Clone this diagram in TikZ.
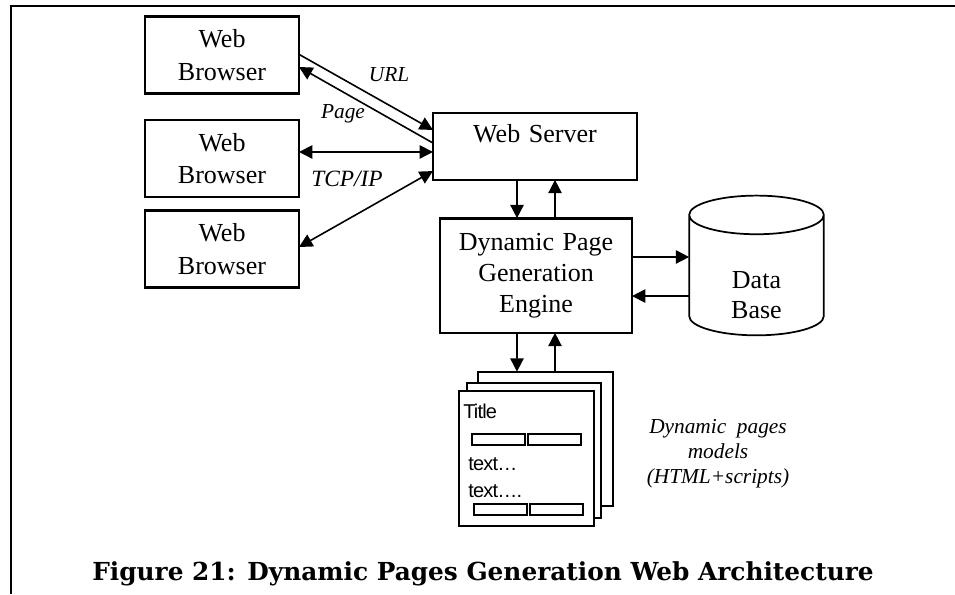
\documentclass[tikz,border=0pt]{standalone}
\usepackage{fontspec}
\setmainfont{Liberation Serif}
\newfontfamily\pagefont[LetterSpace=-4]{Liberation Sans}
\newfontfamily\captionfont{DejaVu Serif}
\usetikzlibrary{shapes, arrows.meta}
\tikzstyle{box}      = [rectangle, draw, text centered, text width=100pt, outer sep=0pt, font=\fontsize{19.5}{24.5}\selectfont]
\tikzstyle{browser}  = [box, line width=1.8pt, minimum width=115.5pt, minimum height=57.5pt]
\tikzstyle{server}   = [box, line width=1.2pt, text width=140pt, minimum width=153pt, minimum height=50pt]
\tikzstyle{engine}   = [box, line width=2pt, text width=130pt, minimum width=144pt, minimum height=86pt, font=\fontsize{19.5}{23.3}\selectfont]
\tikzstyle{store}    = [cylinder, draw, line width=1.3pt, shape border rotate=90, aspect=0.65, align=center, outer sep=0pt, minimum width=101pt, minimum height=97.5pt, font=\fontsize{19.5}{22.5}\selectfont]
\tikzstyle{page}     = [rectangle, draw, line width=1.3pt, fill=white, outer sep=0pt, minimum width=101pt, minimum height=101pt]
\tikzstyle{slot}     = [rectangle, draw, line width=1.3pt, outer sep=0pt, minimum width=40pt, minimum height=8.5pt]
\tikzstyle{note}     = [align=center, font=\fontsize{16}{18.8}\selectfont\itshape]
\tikzstyle{pagetext} = [anchor=west, inner sep=0pt, font=\fontsize{15}{18}\selectfont\pagefont]
\tikzstyle{single}   = [draw, line width=1.2pt, -{Triangle[length=10pt,width=10pt]}]
\tikzstyle{double}   = [draw, line width=1.2pt, {Triangle[length=10pt,width=10pt]}-{Triangle[length=10pt,width=10pt]}]

\begin{document}
\begin{tikzpicture}[x=0.75pt, y=-0.75pt]
    \useasboundingbox (0,0) rectangle (955,594);
    \coordinate (cornerbottom) at (11,594);
    \coordinate (cornertop) at (11,6);
    \coordinate (cornerright) at (955,6);
    \draw[line width=1.7pt](cornerbottom) -- (cornertop) -- (cornerright);
    \node[browser](webone) at (222,55){Web\\Browser};
    \node[browser](webtwo) at (222,158.5){Web\\Browser};
    \node[browser](webthree) at (222,249){Web\\Browser};
    \node[server](webserver) at (535,146.5){\raisebox{20pt}{Web Server}};
    \node[engine](engine) at (536,275.5){Dynamic Page\\Generation\\Engine};
    \node[store](database) at (756.5,279){\mbox{}\\[14pt]Data\\Base};
    \node[page](pageback) at (545.5,439){};
    \node[page](pagemid) at (534,450.5){};
    \node[page](pagefront) at (526.5,458.5){};
    \node[slot](slotone) at (498.5,439.5){};
    \node[slot](slottwo) at (554.5,439.5){};
    \node[slot](slotthree) at (500.5,509.5){};
    \node[slot](slotfour) at (556.5,509.5){};
    \node[pagetext] at (463,411){Title};
    \node[pagetext] at (468,464){text…};
    \node[pagetext] at (468,491){text….};
    \path[single]([yshift=0.5pt]webone.east) -- ([yshift=12.4pt]webserver.west);
    \path[single]([yshift=2.6pt]webserver.west) -- ([yshift=-9pt]webone.east);
    \path[double]([yshift=4.9pt]webtwo.east) -- ([yshift=-4.1pt]webserver.west);
    \path[double]([yshift=1.5pt]webthree.east) -- ([yshift=-18.4pt]webserver.west);
    \path[single]([xshift=-13.5pt]webserver.south) -- ([xshift=-14.25pt]engine.north);
    \path[single]([xshift=14.25pt]engine.north) -- ([xshift=15pt]webserver.south);
    \path[single]([yshift=13.9pt]engine.east) -- ([yshift=16.5pt]database.west);
    \path[single]([yshift=-12.75pt]database.west) -- ([yshift=-15.4pt]engine.east);
    \path[single]([xshift=-14.25pt]engine.south) -- ([xshift=-21.4pt]pageback.north);
    \path[single]([xshift=7.1pt]pageback.north) -- ([xshift=14.25pt]engine.south);
    \node[note] at (389,75){URL};
    \node[note] at (343,114){Page};
    \node[note, font=\fontsize{17.5}{18.8}\selectfont\itshape] at (347,179){TCP/IP};
    \node[note] at (718,454){Dynamic\ \ pages\\models\\(HTML+scripts)};
    \node[anchor=base, inner sep=0pt, font=\fontsize{18.6}{20}\selectfont\captionfont\bfseries] at (483,580.7){Figure 21: Dynamic Pages Generation Web Architecture};
\end{tikzpicture}
\end{document}
